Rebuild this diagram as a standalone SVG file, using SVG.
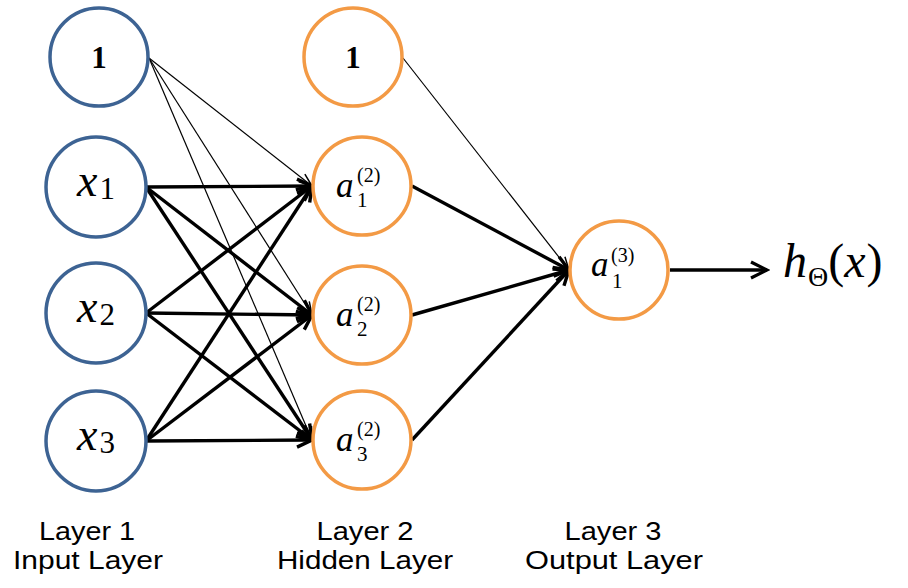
<svg xmlns="http://www.w3.org/2000/svg" width="908" height="588" viewBox="0 0 908 588">
<style>
.in{fill:#fff;stroke:#3d6393;stroke-width:3.5}
.hid{fill:#fff;stroke:#f39a45;stroke-width:3.5}
.m{font-family:"Liberation Serif","DejaVu Serif",serif;fill:#000}
.i{font-style:italic}
.thick{stroke:#000;stroke-width:3.4;fill:none}
.thin{stroke:#000;stroke-width:1.2;fill:none}
.lbl{font-family:"Liberation Sans Narrow","Liberation Sans",sans-serif;font-size:26px;fill:#000;text-anchor:middle}
</style>
<defs>
<marker id="ah" markerUnits="userSpaceOnUse" markerWidth="22" markerHeight="22" viewBox="0 0 22 22" refX="19" refY="11" orient="auto">
<path d="M4,4 L19,11 L4,18" fill="none" stroke="#000" stroke-width="3.4"/>
</marker>
<marker id="ahs" markerUnits="userSpaceOnUse" markerWidth="22" markerHeight="22" viewBox="0 0 22 22" refX="19" refY="11" orient="auto">
<path d="M6,6 L19,11 L6,16" fill="none" stroke="#000" stroke-width="1.5"/>
</marker>
<marker id="ao" markerUnits="userSpaceOnUse" markerWidth="24" markerHeight="24" viewBox="0 0 24 24" refX="21" refY="12" orient="auto">
<path d="M5,4 L21,12 L5,20" fill="none" stroke="#000" stroke-width="3.2"/>
</marker>
</defs>
<rect width="908" height="588" fill="#fff"/>
<g id="connectors">
<line class="thin" x1="149" y1="58" x2="312" y2="186" marker-end="url(#ahs)"/>
<line class="thin" x1="149" y1="58" x2="312" y2="315" marker-end="url(#ahs)"/>
<line class="thin" x1="149" y1="58" x2="312" y2="440" marker-end="url(#ahs)"/>
<line class="thick" x1="146" y1="187" x2="312" y2="186" marker-end="url(#ah)"/>
<line class="thick" x1="146" y1="187" x2="312" y2="315" marker-end="url(#ah)"/>
<line class="thick" x1="146" y1="187" x2="312" y2="440" marker-end="url(#ah)"/>
<line class="thick" x1="146" y1="313" x2="312" y2="186" marker-end="url(#ah)"/>
<line class="thick" x1="146" y1="313" x2="312" y2="315" marker-end="url(#ah)"/>
<line class="thick" x1="146" y1="313" x2="312" y2="440" marker-end="url(#ah)"/>
<line class="thick" x1="146" y1="441" x2="312" y2="186" marker-end="url(#ah)"/>
<line class="thick" x1="146" y1="441" x2="312" y2="315" marker-end="url(#ah)"/>
<line class="thick" x1="146" y1="441" x2="312" y2="440" marker-end="url(#ah)"/>
<line class="thin" x1="403" y1="58" x2="569" y2="270" marker-end="url(#ahs)"/>
<line class="thick" x1="412" y1="186" x2="569" y2="270" marker-end="url(#ah)"/>
<line class="thick" x1="412" y1="315" x2="569" y2="270" marker-end="url(#ah)"/>
<line class="thick" x1="412" y1="440" x2="569" y2="270" marker-end="url(#ah)"/>
<line class="thick" x1="670" y1="270" x2="767" y2="270" marker-end="url(#ao)"/>
</g>
<g id="in_bias">
<circle class="in" cx="99" cy="57" r="49"/>
<text class="m" x="99" y="68" font-size="31" font-weight="bold" text-anchor="middle">1</text>
</g>
<g id="x1">
<circle class="in" cx="96" cy="187" r="50"/>
<text class="m" x="77" y="196"><tspan class="i" font-size="46">x</tspan><tspan font-size="31" dx="2" dy="3">1</tspan></text>
</g>
<g id="x2">
<circle class="in" cx="96" cy="313" r="50"/>
<text class="m" x="77" y="322"><tspan class="i" font-size="46">x</tspan><tspan font-size="31" dx="2" dy="3">2</tspan></text>
</g>
<g id="x3">
<circle class="in" cx="96" cy="441" r="50"/>
<text class="m" x="77" y="450"><tspan class="i" font-size="46">x</tspan><tspan font-size="31" dx="2" dy="3">3</tspan></text>
</g>
<g id="hid_bias">
<circle class="hid" cx="353" cy="57" r="49"/>
<text class="m" x="353" y="68" font-size="31" font-weight="bold" text-anchor="middle">1</text>
</g>
<g id="a1">
<circle class="hid" cx="362" cy="186" r="49"/>
<text class="m i" x="336" y="197" font-size="35">a</text>
<text class="m" x="357" y="182" font-size="20">(2)</text>
<text class="m" x="357" y="207" font-size="21">1</text>
</g>
<g id="a2">
<circle class="hid" cx="362" cy="315" r="49"/>
<text class="m i" x="336" y="326" font-size="35">a</text>
<text class="m" x="357" y="311" font-size="20">(2)</text>
<text class="m" x="357" y="336" font-size="21">2</text>
</g>
<g id="a3">
<circle class="hid" cx="362" cy="440" r="49"/>
<text class="m i" x="336" y="451" font-size="35">a</text>
<text class="m" x="357" y="436" font-size="20">(2)</text>
<text class="m" x="357" y="461" font-size="21">3</text>
</g>
<g id="out">
<circle class="hid" cx="619" cy="270" r="49"/>
<text class="m i" x="591" y="276" font-size="35">a</text>
<text class="m" x="611" y="262" font-size="20">(3)</text>
<text class="m" x="612" y="288" font-size="21">1</text>
</g>
<g id="h_out">
<text class="m" x="783" y="277"><tspan class="i" font-size="48">h</tspan><tspan font-size="28" dx="1" dy="9">Θ</tspan><tspan font-size="48" dy="-9">(</tspan><tspan class="i" font-size="48">x</tspan><tspan font-size="48" dx="1">)</tspan></text>
</g>
<g id="labels">
<text class="lbl" x="87" y="540" textLength="96" lengthAdjust="spacingAndGlyphs">Layer 1</text>
<text class="lbl" x="88" y="569" textLength="150" lengthAdjust="spacingAndGlyphs">Input Layer</text>
<text class="lbl" x="365" y="540" textLength="97" lengthAdjust="spacingAndGlyphs">Layer 2</text>
<text class="lbl" x="365" y="569" textLength="176" lengthAdjust="spacingAndGlyphs">Hidden Layer</text>
<text class="lbl" x="613" y="540" textLength="97" lengthAdjust="spacingAndGlyphs">Layer 3</text>
<text class="lbl" x="614" y="569" textLength="178" lengthAdjust="spacingAndGlyphs">Output Layer</text>
</g>
</svg>
